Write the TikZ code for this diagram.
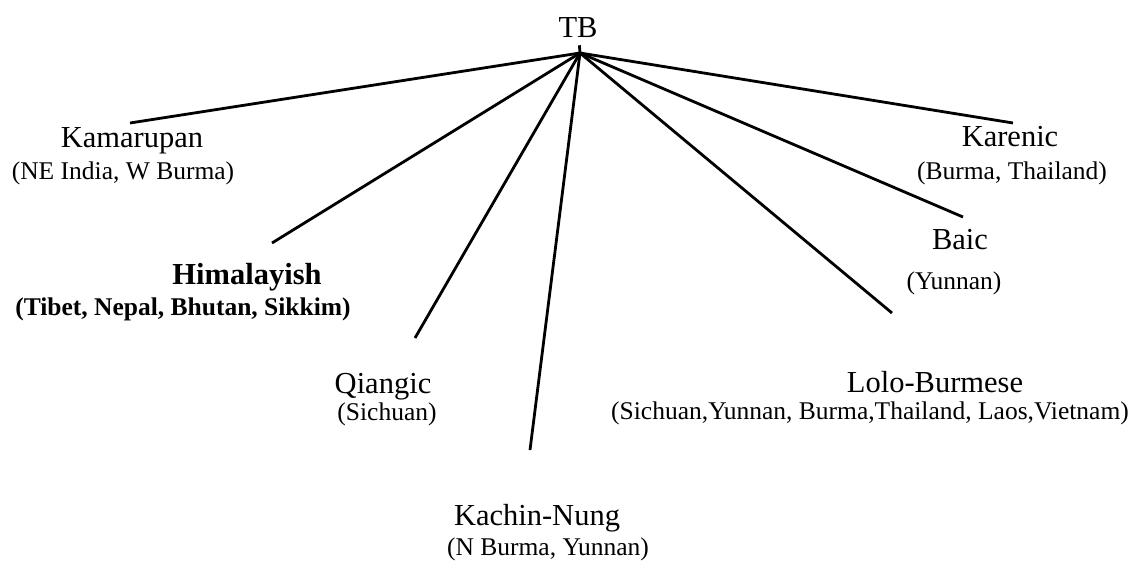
\documentclass[tikz,border=0pt]{standalone}
\usepackage{fontspec}
\setmainfont{Liberation Serif}
\usepackage{tikz}
\usetikzlibrary{calc, positioning}

\begin{document}
\begin{tikzpicture}[x=1pt, y=-1pt]
	\tikzstyle{grp} = [anchor=base, inner sep=0pt, font=\fontsize{30.5}{34}\selectfont]
	\tikzstyle{area} = [anchor=base, inner sep=0pt, font=\fontsize{25.5}{29}\selectfont]
	\tikzstyle{branch} = [draw, line width=2.8pt]

	\useasboundingbox (0,0) rectangle (1140,561);

	% root
	\node [grp, inner sep=7pt] (tb) at (578,38) {TB};
	\coordinate (apex) at (580,53);

	% subgroups
	\node [grp] (kam) at (132,148) {Kamarupan};
	\node [area] (kamsub) at (123,180) {(NE India, W Burma)};

	\node [grp, font=\fontsize{30.5}{34}\selectfont\bfseries] (him) at (247,284) {Himalayish};
	\node [area, font=\fontsize{25.5}{29}\selectfont\bfseries] (himsub) at (183,315) {(Tibet, Nepal, Bhutan, Sikkim)};

	\node [grp] (qia) at (383,393) {Qiangic};
	\node [area] (qiasub) at (387,420) {(Sichuan)};

	\node [grp] (kac) at (537,525) {Kachin-Nung};
	\node [area] (kacsub) at (548,555) {(N Burma, Yunnan)};

	\node [grp] (lol) at (935,392) {Lolo-Burmese};
	\node [area] (lolsub) at (870,419) {(Sichuan,Yunnan, Burma,Thailand, Laos,Vietnam)};

	\node [grp] (bai) at (960,250) {Baic};
	\node [area] (baisub) at (954,290) {(Yunnan)};

	\node [grp] (kar) at (1010,147) {Karenic};
	\node [area] (karsub) at (1012,180) {(Burma, Thailand)};

	% free ends of the branches
	\coordinate (kamend) at (130,123);
	\coordinate (himend) at (272,243);
	\coordinate (qiaend) at (415,338);
	\coordinate (kacend) at (530,450);
	\coordinate (lolend) at (892,313);
	\coordinate (baiend) at (963,217);
	\coordinate (karend) at (1013,123);

	%branches
	\tikzstyle{every path}=[branch]
		\path (tb) -- (apex);
		\foreach \e in {kamend, himend, qiaend, kacend, lolend, baiend, karend}
			\path (apex) -- (\e);

\end{tikzpicture}
\end{document}
